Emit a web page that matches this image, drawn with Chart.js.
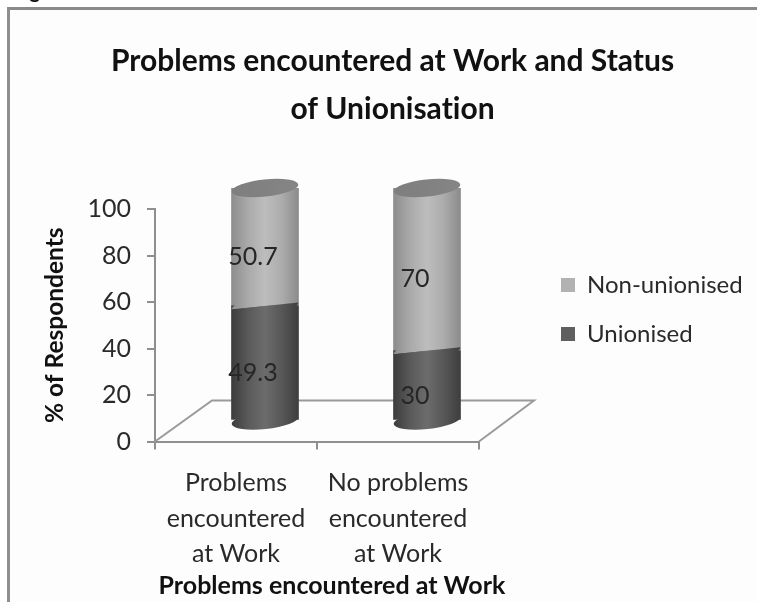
<!DOCTYPE html>
<html>
<head>
<meta charset="utf-8">
<script src="https://cdn.jsdelivr.net/npm/chart.js@4/dist/chart.umd.min.js"></script>
<style>
html,body{margin:0;padding:0;background:#fff;overflow:hidden}
#wrap{position:relative;width:757px;height:602px;overflow:hidden;filter:blur(0.5px)}
#frame{position:absolute;left:7px;top:7px;width:760px;height:610px;border-left:3px solid #8e8e8e;border-top:3px solid #8a8a8a;box-sizing:border-box;background:#fdfdfd}
#fig{position:absolute;left:13px;top:-22px;font:bold 20px Lato,sans-serif;color:#111}
canvas{position:absolute;left:0;top:0}
</style>
</head>
<body>
<div id="wrap">
<div id="fig">Figure</div>
<div id="frame"></div>
<canvas id="c" width="757" height="602"></canvas>
</div>
<script>
const categories = [["Problems","encountered","at Work"],["No problems","encountered","at Work"]];
const seriesNames = ["Unionised","Non-unionised"];
const unionised = [49.3,30];
const nonUnionised = [50.7,70];
const yTicks = [0,20,40,60,80,100];
const titleLines = ["Problems encountered at Work and Status","of Unionisation"];
const xTitle = "Problems encountered at Work";
const yTitle = "% of Respondents";
const legendColors = ["#5f5f5f","#b2b2b2"];

const DEPTH = {x:57,y:-41};
const BAR = {dx:29,dy:-21,w:67,ry:8.5,rot:-6*Math.PI/180};
const AXIS = "#8f8f8f";
const FONT = "Lato, sans-serif";
const shades = [
  ["#3c3c3c","#5a5a5a","#6c6c6c","#575757","#3e3e3e"],
  ["#8d8d8d","#aaaaaa","#bdbdbd","#acacac","#8b8b8b"]
];
function cylGrad(c,cx,stops){
  const g=c.createLinearGradient(cx-BAR.w/2,0,cx+BAR.w/2,0);
  stops.forEach((s,i)=>g.addColorStop(i/(stops.length-1),s));
  return g;
}
function centerX(chart,i){return chart.scales.x.getPixelForValue(i)+BAR.dx;}
function ell(c,cx,cy,a,b){c.beginPath();c.ellipse(cx,cy,BAR.w/2,BAR.ry,BAR.rot,a,b);c.closePath();}

const cylinder = {
  id:"cylinder",
  beforeLayout(chart){
    const l=chart.legend;
    if(l && !l._wide){
      const f=l.fit;
      l.fit=function(){f.call(this);this.width=757-479;};
      l._wide=true;
    }
  },
  afterLayout(chart){
    const l=chart.legend;
    l.left=536;l.right=757;l.top=248;l.bottom=560;
    const s=chart.scales.x;
    if(!s._shifted){
      const d=s.drawTitle;
      s.drawTitle=function(){
        const a=this.left,b=this.right;
        this.left=a+3;this.right=a+351;
        d.call(this);
        this.left=a;this.right=b;
      };
      s._shifted=true;
    }
  },
  beforeDraw(chart){
    chart.ctx.textRendering="optimizeSpeed";
  },
  beforeDatasetsDraw(chart){
    const c=chart.ctx,{x,y}=chart.scales;
    const x0=x.left,x1=x.right,y0=y.getPixelForValue(0);
    c.save();
    c.strokeStyle="#9a9a9a";c.lineWidth=2;
    c.beginPath();
    c.moveTo(x0,y0);c.lineTo(x0+DEPTH.x,y0+DEPTH.y);c.lineTo(x1+DEPTH.x-2,y0+DEPTH.y);c.lineTo(x1,y0);
    c.stroke();
    c.restore();
    c.save();
    c.translate(BAR.dx,BAR.dy);
  },
  afterDatasetsDraw(chart){
    const c=chart.ctx,{y}=chart.scales;
    c.restore();
    categories.forEach((_,i)=>{
      const cx=centerX(chart,i);
      const seam=y.getPixelForValue(unionised[i])+BAR.dy;
      const bot=y.getPixelForValue(0)+BAR.dy;
      const top=y.getPixelForValue(unionised[i]+nonUnionised[i])+BAR.dy;
      c.save();
      c.fillStyle=cylGrad(c,cx,shades[0]);
      c.beginPath();c.ellipse(cx,bot,BAR.w/2,BAR.ry,BAR.rot,0,2*Math.PI);c.fill();
      c.fillStyle=cylGrad(c,cx,shades[1]);
      ell(c,cx,seam,Math.PI,2*Math.PI);c.fill();
      c.fillStyle=cylGrad(c,cx,shades[0]);
      ell(c,cx,seam,0,Math.PI);c.fill();
      const g=c.createLinearGradient(cx-BAR.w/2,0,cx+BAR.w/2,0);
      g.addColorStop(0,"#7e7e7e");g.addColorStop(1,"#858585");
      c.fillStyle=g;
      c.beginPath();c.ellipse(cx,top,BAR.w/2,BAR.ry,BAR.rot,0,2*Math.PI);c.fill();
      c.restore();
    });
    c.save();
    c.fillStyle="#262626";c.font="25px "+FONT;c.textAlign="center";c.textBaseline="middle";
    [unionised,nonUnionised].forEach((vals,si)=>{
      vals.forEach((v,i)=>{
        const base=si===0?0:unionised[i];
        const px=chart.scales.x.getPixelForValue(i)+17;
        const py=y.getPixelForValue(base+v/2)-11;
        c.fillText(String(v),px,py);
      });
    });
    c.restore();
  }
};

new Chart(document.getElementById("c"),{
  type:"bar",
  data:{
    labels:categories,
    datasets:[
      {label:seriesNames[0],data:unionised,barThickness:BAR.w,
       backgroundColor:ctx=>cylGrad(ctx.chart.ctx,centerX(ctx.chart,ctx.dataIndex)-BAR.dx,shades[0])},
      {label:seriesNames[1],data:nonUnionised,barThickness:BAR.w,
       backgroundColor:ctx=>cylGrad(ctx.chart.ctx,centerX(ctx.chart,ctx.dataIndex)-BAR.dx,shades[1])}
    ]
  },
  options:{
    responsive:false,animation:false,
    layout:{padding:{left:28,right:0,top:0,bottom:0}},
    scales:{
      x:{stacked:true,
        afterFit:s=>{s.height=160.5;},
        border:{color:AXIS,width:2},
        grid:{drawOnChartArea:false,drawTicks:true,tickLength:8,color:AXIS,lineWidth:2},
        ticks:{autoSkip:false,maxRotation:0,minRotation:0,padding:16,color:"#2a2a2a",font:{family:FONT,size:25,lineHeight:"35.5px"}},
        title:{display:true,text:xTitle,color:"#111",font:{family:FONT,size:25,weight:"bold",lineHeight:"24px"},padding:{top:0,bottom:4}}
      },
      y:{stacked:true,min:0,max:100,
        afterFit:s=>{s.width=127;},
        afterBuildTicks:s=>{s.ticks=yTicks.map(v=>({value:v}));},
        border:{color:AXIS,width:2},
        grid:{drawOnChartArea:false,drawTicks:true,tickLength:8,color:AXIS,lineWidth:2},
        ticks:{padding:16,color:"#2a2a2a",font:{family:FONT,size:25}},
        title:{display:true,text:yTitle,color:"#111",font:{family:FONT,size:24.5,weight:"bold",lineHeight:"24px"},padding:{top:15,bottom:0}}
      }
    },
    plugins:{
      title:{display:true,text:titleLines,color:"#111",font:{family:FONT,size:30,weight:"bold",lineHeight:"48px"},padding:{top:37,bottom:76}},
      legend:{display:true,position:"right",align:"start",reverse:true,
        labels:{boxWidth:14,boxHeight:14,padding:25,color:"#2a2a2a",font:{family:FONT,size:24},
          generateLabels:chart=>chart.data.datasets.map((d,i)=>({text:d.label,fillStyle:legendColors[i],strokeStyle:legendColors[i],lineWidth:0,datasetIndex:i,fontColor:"#2a2a2a"}))}
      },
      tooltip:{enabled:false}
    }
  },
  plugins:[cylinder]
});
</script>
</body>
</html>
